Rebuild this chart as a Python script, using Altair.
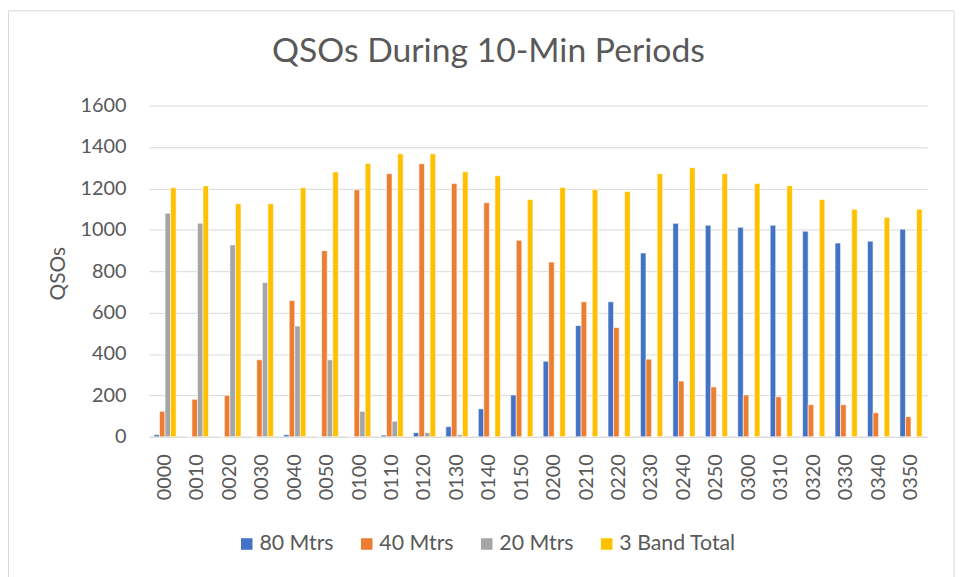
import altair as alt
import pandas as pd

times = ["0000", "0010", "0020", "0030", "0040", "0050", "0100", "0110", "0120", "0130",
         "0140", "0150", "0200", "0210", "0220", "0230", "0240", "0250", "0300", "0310",
         "0320", "0330", "0340", "0350"]
m80 = [10, 0, 0, 0, 10, 0, 0, 8, 20, 49, 135, 202, 365, 537, 652, 888, 1031, 1022, 1012, 1022,
       993, 936, 945, 1003]
m40 = [123, 181, 200, 372, 658, 899, 1193, 1271, 1319, 1223, 1131, 949, 844, 652, 528, 375, 269,
       241, 202, 193, 155, 155, 116, 97]
m20 = [1080, 1032, 927, 745, 535, 372, 123, 75, 20, 10, 0, 0, 0, 0, 0, 0, 0, 0, 0, 0, 0, 0, 0, 0]
total = [1203, 1212, 1126, 1126, 1203, 1279, 1320, 1367, 1367, 1280, 1261, 1146, 1204, 1194, 1185,
         1271, 1300, 1271, 1223, 1213, 1146, 1099, 1060, 1099]

series = ["80 Mtrs", "40 Mtrs", "20 Mtrs", "3 Band Total"]
colors = ["#4472C4", "#ED7D31", "#A5A5A5", "#FFC000"]

rows = []
for name, vals in zip(series, [m80, m40, m20, total]):
    for t, v in zip(times, vals):
        rows.append({"Time": t, "Band": name, "QSOs": v})
df = pd.DataFrame(rows)

FONT = "Lato"
GREY = "#595959"

border = alt.Chart(alt.Data(values=[{}])).mark_rect(
    fillOpacity=0, stroke="#D9D9D9", strokeWidth=1
).encode(
    x=alt.value(-141.5), x2=alt.value(812), y=alt.value(-95.5), y2=alt.value(480)
)

bars = alt.Chart(df).mark_bar(stroke="white", strokeWidth=0.6).encode(
    x=alt.X("Time:N", sort=times,
            scale=alt.Scale(paddingInner=0.315, paddingOuter=0.1575),
            axis=alt.Axis(title=None, labelAngle=-90, labelAlign="right", labelBaseline="middle",
                          labelFontSize=20, labelFont=FONT, labelColor=GREY, ticks=False,
                          tickSize=0, labelPadding=17, domainColor="#D9D9D9", domainWidth=1,
                          grid=False)),
    xOffset=alt.XOffset("Band:N", sort=series, scale=alt.Scale(paddingInner=0, paddingOuter=0)),
    y=alt.Y("QSOs:Q", scale=alt.Scale(domain=[0, 1600], nice=False),
            axis=alt.Axis(title="QSOs", values=list(range(0, 1601, 200)), format="d",
                          labelFontSize=20,
                          labelFont=FONT, labelColor=GREY, ticks=False, labelPadding=23,
                          domain=False, gridColor="#D9D9D9", gridWidth=1,
                          titleFont=FONT, titleFontSize=21, titleColor=GREY,
                          titleFontWeight="normal", titleAngle=-90, titleX=-85, titleY=169,
                          titleAlign="center", titleBaseline="alphabetic")),
    color=alt.Color("Band:N", sort=series, scale=alt.Scale(domain=series, range=colors),
                    legend=alt.Legend(title=None, orient="none", direction="horizontal",
                                      legendX=88, legendY=431, symbolType="square",
                                      symbolSize=135, symbolStrokeWidth=0,
                                      labelFontSize=21.5, labelFont=FONT, labelColor=GREY,
                                      labelOffset=2, columnPadding=22, padding=0,
                                      labelLimit=300)),
)

chart = alt.layer(border, bars).properties(
    width=785,
    height=334,
    padding={"left": 142, "top": 96, "right": 29, "bottom": 139},
    autosize=alt.AutoSizeParams(type="none"),
    title=alt.TitleParams("QSOs During 10-Min Periods", font=FONT, fontSize=34,
                          fontWeight="normal", color=GREY, anchor="middle", frame="group",
                          baseline="alphabetic", offset=0, dy=86, dx=-50),
).configure_view(stroke=None)

chart.save("out.html", embed_options={"renderer": "svg", "actions": False})
